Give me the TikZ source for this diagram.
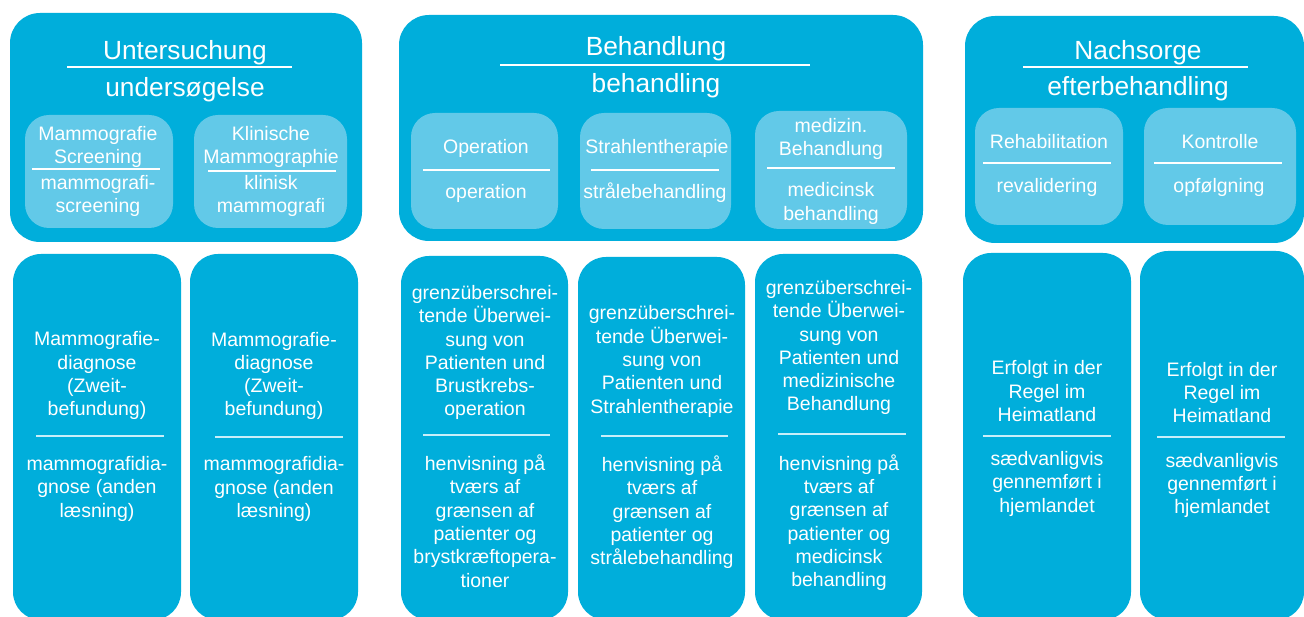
\documentclass[tikz,border=0pt]{standalone}
\usepackage{fontspec}
\setmainfont{Liberation Sans}
\definecolor{boxblue}{RGB}{0,174,219}
\definecolor{lightblue}{RGB}{98,201,232}
\definecolor{seplight}{RGB}{200,238,249}
\tikzset{
  outerbox/.style={fill=boxblue, rounded corners=30pt, inner sep=0pt, outer sep=0pt},
  innerbox/.style={fill=lightblue, rounded corners=24pt, inner sep=0pt, outer sep=0pt},
  colbox/.style={fill=boxblue, rounded corners=28pt, inner sep=0pt, outer sep=0pt},
  titletext/.style={text=white, font=\fontsize{26.3}{31}\selectfont, anchor=base, inner sep=0pt},
  labeltext/.style={text=white, font=\fontsize{19.5}{23.3}\selectfont, anchor=base, inner sep=0pt},
  bodytext/.style={text=white, font=\fontsize{19.5}{23.3}\selectfont, align=center, inner sep=0pt},
  titlesep/.style={draw=white, line width=1.3pt},
  innersep/.style={draw=white, line width=1.5pt},
  colsep/.style={draw=seplight, line width=2pt}
}
\begin{document}
\begin{tikzpicture}[x=1pt,y=-1pt]
\useasboundingbox[fill=white] (0,0) rectangle (1304,617);

% ---------- top group boxes ----------
\node[outerbox, minimum width=352pt, minimum height=229pt] (g1) at (186,127.5) {};
\node[outerbox, minimum width=524pt, minimum height=226pt] (g2) at (661,128) {};
\node[outerbox, minimum width=339pt, minimum height=227pt] (g3) at (1134.5,129.5) {};

% titles
\node[titletext] (t1de) at (185,60) {Untersuchung};
\node[titletext] (t1dk) at (185,97) {undersøgelse};
\coordinate (l1a) at (67,67); \coordinate (l1b) at (292,67);
\draw[titlesep] (l1a) -- (l1b);

\node[titletext] (t2de) at (656,55.5) {Behandlung};
\node[titletext] (t2dk) at (656,92.5) {behandling};
\coordinate (l2a) at (500,65); \coordinate (l2b) at (810,65);
\draw[titlesep] (l2a) -- (l2b);

\node[titletext] (t3de) at (1138,60) {Nachsorge};
\node[titletext] (t3dk) at (1138,96) {efterbehandling};
\coordinate (l3a) at (1023,67); \coordinate (l3b) at (1248,67);
\draw[titlesep] (l3a) -- (l3b);

% ---------- inner boxes ----------
\node[innerbox, minimum width=148pt, minimum height=113pt] (a1) at (99,171.5) {};
\node[innerbox, minimum width=153pt, minimum height=113pt] (a2) at (270.5,171.5) {};
\node[innerbox, minimum width=147pt, minimum height=116pt] (b1) at (484.5,171) {};
\node[innerbox, minimum width=151pt, minimum height=116pt] (b2) at (655.5,171) {};
\node[innerbox, minimum width=152pt, minimum height=118pt] (b3) at (831,170) {};
\node[innerbox, minimum width=148pt, minimum height=117pt] (c1) at (1049,166.5) {};
\node[innerbox, minimum width=152pt, minimum height=117pt] (c2) at (1220,166.5) {};

\node[bodytext] (a1de) at (98,147) {Mammografie\\Screening};
\node[bodytext] (a1dk) at (98,196) {mammografi-\\screening};
\coordinate (la1a) at (32,169); \coordinate (la1b) at (160,169);
\draw[innersep] (la1a) -- (la1b);

\node[bodytext] (a2de) at (271,147) {Klinische\\Mammographie};
\node[bodytext] (a2dk) at (271,196) {klinisk\\mammografi};
\coordinate (la2a) at (208,171); \coordinate (la2b) at (336,171);
\draw[innersep] (la2a) -- (la2b);

\node[labeltext] (b1de) at (486,153.5) {Operation};
\node[labeltext] (b1dk) at (486,198.5) {operation};
\coordinate (lb1a) at (423,170); \coordinate (lb1b) at (550,170);
\draw[innersep] (lb1a) -- (lb1b);

\node[labeltext] (b2de) at (657,153.5) {Strahlentherapie};
\node[labeltext] (b2dk) at (655,198.5) {strålebehandling};
\coordinate (lb2a) at (591,170); \coordinate (lb2b) at (719,170);
\draw[innersep] (lb2a) -- (lb2b);

\node[bodytext] (b3de) at (831,139) {medizin.\\Behandlung};
\node[bodytext] (b3dk) at (831,203.5) {medicinsk\\behandling};
\coordinate (lb3a) at (767,168); \coordinate (lb3b) at (895,168);
\draw[innersep] (lb3a) -- (lb3b);

\node[labeltext] (c1de) at (1049,149) {Rehabilitation};
\node[labeltext] (c1dk) at (1047,193) {revalidering};
\coordinate (lc1a) at (983,163); \coordinate (lc1b) at (1111,163);
\draw[innersep] (lc1a) -- (lc1b);

\node[labeltext] (c2de) at (1220,149) {Kontrolle};
\node[labeltext] (c2dk) at (1219,193) {opfølgning};
\coordinate (lc2a) at (1154,163); \coordinate (lc2b) at (1282,163);
\draw[innersep] (lc2a) -- (lc2b);

% ---------- bottom columns ----------
\node[colbox, minimum width=168pt, minimum height=366pt] (k1) at (97,437) {};
\node[colbox, minimum width=168pt, minimum height=366pt] (k2) at (274,437) {};
\node[colbox, minimum width=167pt, minimum height=364pt] (k3) at (484.5,438) {};
\node[colbox, minimum width=167pt, minimum height=363pt] (k4) at (661.5,438.5) {};
\node[colbox, minimum width=167pt, minimum height=366pt] (k5) at (838.5,437) {};
\node[colbox, minimum width=168pt, minimum height=367pt] (k6) at (1047,436.5) {};
\node[colbox, minimum width=164pt, minimum height=369pt] (k7) at (1222,435.5) {};

\node[bodytext] (k1de) at (97,375.75) {Mammografie-\\diagnose\\(Zweit-\\befundung)};
\node[bodytext] (k1dk) at (97,488.7) {mammografidia-\\gnose (anden\\læsning)};
\coordinate (lk1a) at (36,436); \coordinate (lk1b) at (164,436);
\draw[colsep] (lk1a) -- (lk1b);

\node[bodytext] (k2de) at (274,376) {Mammografie-\\diagnose\\(Zweit-\\befundung)};
\node[bodytext] (k2dk) at (274,489) {mammografidia-\\gnose (anden\\læsning)};
\coordinate (lk2a) at (215,437); \coordinate (lk2b) at (343,437);
\draw[colsep] (lk2a) -- (lk2b);

\node[bodytext] (k3de) at (485,352.7) {grenzüberschrei-\\tende Überwei-\\sung von\\Patienten und\\Brustkrebs-\\operation};
\node[bodytext] (k3dk) at (485,521) {henvisning på\\tværs af\\grænsen af\\patienter og\\brystkræftopera-\\tioner};
\coordinate (lk3a) at (423,435); \coordinate (lk3b) at (550,435);
\draw[colsep] (lk3a) -- (lk3b);

\node[bodytext] (k4de) at (662,361.4) {grenzüberschrei-\\tende Überwei-\\sung von\\Patienten und\\Strahlentherapie};
\node[bodytext] (k4dk) at (662,512.4) {henvisning på\\tværs af\\grænsen af\\patienter og\\strålebehandling};
\coordinate (lk4a) at (601,436); \coordinate (lk4b) at (728,436);
\draw[colsep] (lk4a) -- (lk4b);

\node[bodytext] (k5de) at (839,347.7) {grenzüberschrei-\\tende Überwei-\\sung von\\Patienten und\\medizinische\\Behandlung};
\node[bodytext] (k5dk) at (839,522.8) {henvisning på\\tværs af\\grænsen af\\patienter og\\medicinsk\\behandling};
\coordinate (lk5a) at (778,434); \coordinate (lk5b) at (906,434);
\draw[colsep] (lk5a) -- (lk5b);

\node[bodytext] (k6de) at (1047,391.3) {Erfolgt in der\\Regel im\\Heimatland};
\node[bodytext] (k6dk) at (1047,483.7) {sædvanligvis\\gennemført i\\hjemlandet};
\coordinate (lk6a) at (983,436); \coordinate (lk6b) at (1111,436);
\draw[colsep] (lk6a) -- (lk6b);

\node[bodytext] (k7de) at (1222,392.7) {Erfolgt in der\\Regel im\\Heimatland};
\node[bodytext] (k7dk) at (1222,485.3) {sædvanligvis\\gennemført i\\hjemlandet};
\coordinate (lk7a) at (1157,437); \coordinate (lk7b) at (1285,437);
\draw[colsep] (lk7a) -- (lk7b);
\end{tikzpicture}
\end{document}
